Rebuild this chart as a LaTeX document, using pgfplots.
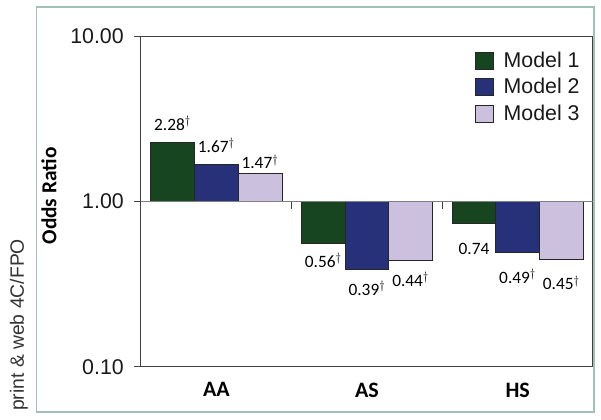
\documentclass[border=0pt]{standalone}
\usepackage{pgfplots}
\pgfplotsset{compat=1.18}
\usepackage{pgfplotstable}
\usepackage{fontspec}
\setmainfont{Liberation Sans}
\newfontfamily\calfont{Carlito}
\newlength\pxl
\setlength\pxl{0.75pt}
\definecolor{mgreen}{HTML}{16451F}
\definecolor{mblue}{HTML}{26317A}
\definecolor{mlav}{HTML}{CBC0DE}
\definecolor{framec}{HTML}{9FBFB7}
\definecolor{axgray}{HTML}{404040}

\pgfplotstableread{
x y label off
0 2.28 {2.28$^\dagger$} 12
1 0.56 {0.56$^\dagger$} -24
2 0.74 {0.74} -31
}\modelA
\pgfplotstableread{
x y label off
0 1.67 {1.67$^\dagger$} 12
1 0.39 {0.39$^\dagger$} -26
2 0.49 {0.49$^\dagger$} -31
}\modelB
\pgfplotstableread{
x y label off
0 1.47 {1.47$^\dagger$} 5
1 0.44 {0.44$^\dagger$} -26
2 0.45 {0.45$^\dagger$} -31
}\modelC

\begin{document}
\begin{tikzpicture}
\path[use as bounding box] (0,0) rectangle (601\pxl,-420\pxl);
\draw[framec, line width=1.2\pxl] (36.5\pxl,-7\pxl) rectangle (594\pxl,-412\pxl);
\node[rotate=90, font=\fontsize{14.5}{16}\selectfont, text=black!80] at (19\pxl,-325\pxl) {print \& web 4C/FPO};
\begin{axis}[
  at={(141\pxl,-367\pxl)}, anchor=south west,
  scale only axis, width=452\pxl, height=331\pxl,
  ymode=log, ymin=0.1, ymax=10,
  ytick={0.1,1,10}, yticklabels={0.10,1.00,10.00},
  yminorticks=false,
  xmin=-0.5, xmax=2.5,
  xtick={0,1,2}, xticklabels={AA,AS,HS},
  xtick style={draw=none},
  ytick pos=left, tick align=outside,
  major tick length=7\pxl,
  axis line style={axgray, line width=1\pxl},
  ytick style={axgray, line width=1\pxl},
  yticklabel style={font=\fontsize{16}{18}\selectfont, inner sep=0pt, xshift=-10\pxl, text=black!90},
  xticklabel style={font=\calfont\bfseries\fontsize{16.5}{18}\selectfont, yshift=-4\pxl},
  ylabel={Odds Ratio},
  every axis y label/.style={at={(axis description cs:-0.2035,0.517)}, rotate=90, anchor=center,
    font=\calfont\bfseries\fontsize{16}{18}\selectfont},
  ybar=0pt, bar width=43.7\pxl,
  legend style={at={(axis description cs:0.739,0.96)}, anchor=north west, draw=none, fill=none,
    font=\fontsize{16}{18}\selectfont, row sep=3.5\pxl, column sep=7\pxl, inner sep=0pt,
    text=black!90, legend cell align=left},
  area legend,
  legend image code/.code={\path[#1, line width=0.75\pxl] (0pt,-6.4pt) rectangle (13.5pt,6.4pt);},
  nodes near coords,
  point meta=explicit symbolic,
  visualization depends on={\thisrow{off} \as \off},
  every node near coord/.append style={font=\calfont\fontsize{13}{15}\selectfont, anchor=base, inner sep=0pt, yshift=\off\pxl, text=black},
]
\addplot[fill=mgreen, draw=black!85, line width=0.75\pxl] table[x=x, y=y, meta=label] {\modelA};
\addplot[fill=mblue, draw=black!85, line width=0.75\pxl] table[x=x, y=y, meta=label] {\modelB};
\addplot[fill=mlav, draw=black!85, line width=0.75\pxl] table[x=x, y=y, meta=label] {\modelC};
\legend{Model 1, Model 2, Model 3}
\draw[gray, line width=0.6pt] (axis cs:-0.5,1) -- (axis cs:2.5,1);
\draw[axgray, line width=0.75pt] (axis cs:0.5,1) -- ++(0pt,-5.25pt);
\draw[axgray, line width=0.75pt] (axis cs:1.5,1) -- ++(0pt,-5.25pt);
\end{axis}
\end{tikzpicture}
\end{document}
